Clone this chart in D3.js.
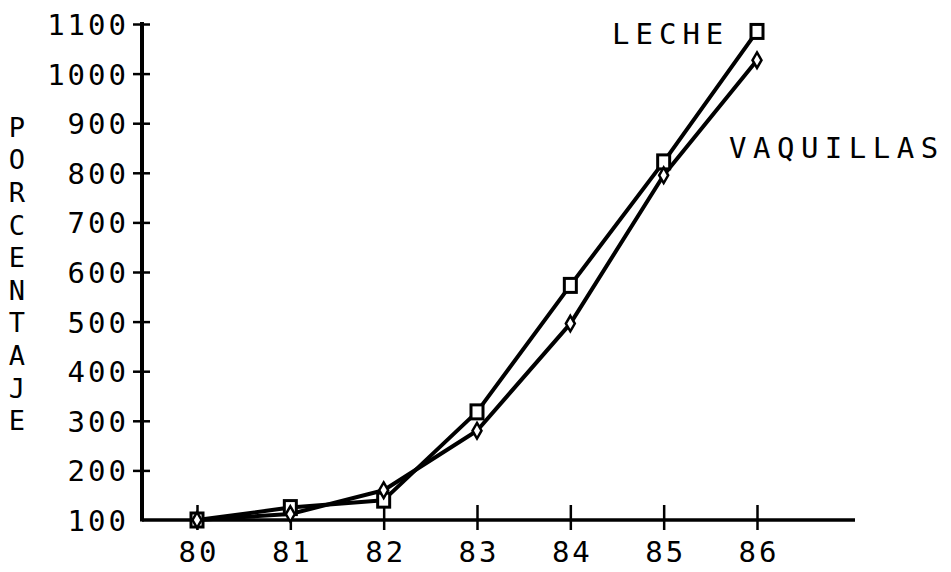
<!DOCTYPE html>
<html><head><meta charset="utf-8">
<script src="https://cdn.jsdelivr.net/npm/d3@7"></script>
<style>html,body{margin:0;padding:0;background:#fff;}svg{display:block;}</style>
</head><body>
<script>
const years = [80, 81, 82, 83, 84, 85, 86];
const leche = [100, 125, 140, 318, 573, 822, 1085];
const vaquillas = [100, 112, 160, 280, 496, 795, 1027];
const yTicks = [100, 200, 300, 400, 500, 600, 700, 800, 900, 1000, 1100];
const yTitle = "PORCENTAJE";
const seriesNames = ["LECHE", "VAQUILLAS"];

const W = 951, H = 572;
const FONT = "'DejaVu Sans Mono', 'Liberation Mono', monospace";
const svg = d3.select("body").append("svg").attr("width", W).attr("height", H);

const x = d3.scaleLinear().domain([80, 86]).range([197, 757]);
const y = d3.scaleLinear().domain([100, 1100]).range([520, 24]);
const axisX0 = 142, axisXEnd = 855;

// Y axis
const yAxis = d3.axisLeft(y).tickValues(yTicks).tickSize(9).tickPadding(14).tickFormat(d3.format("d"));
const gy = svg.append("g").attr("transform", `translate(${axisX0},0)`).call(yAxis);
gy.select(".domain").remove();
gy.selectAll(".tick line").attr("x1", 8).attr("stroke", "#000").attr("stroke-width", 2.5)
  .attr("display", d => d === 100 ? "none" : null);
gy.selectAll(".tick text").attr("font-family", FONT).attr("font-size", 29)
  .attr("letter-spacing", 3).attr("fill", "#000").attr("dy", "0.36em").attr("x", -13);
gy.append("line").attr("x1", 0).attr("x2", 0).attr("y1", y(1100) - 2).attr("y2", y(100) + 1.5)
  .attr("stroke", "#000").attr("stroke-width", 4);

// X axis
const xAxis = d3.axisBottom(x).tickValues(years).tickSize(10).tickPadding(11).tickFormat(d3.format("d"));
const gx = svg.append("g").attr("transform", `translate(0,${y(100)})`).call(xAxis);
gx.select(".domain").remove();
gx.selectAll(".tick line").attr("y1", -15).attr("stroke", "#000").attr("stroke-width", 2.5);
gx.selectAll(".tick text").attr("font-family", FONT).attr("font-size", 29)
  .attr("letter-spacing", 3).attr("fill", "#000").attr("dx", 1.5);
gx.append("line").attr("x1", axisX0).attr("x2", axisXEnd).attr("y1", 0).attr("y2", 0)
  .attr("stroke", "#000").attr("stroke-width", 3.5);

// Y title stacked vertically
svg.append("g").selectAll("text").data(yTitle.split("")).join("text")
  .attr("x", 17).attr("y", (d, i) => 127 + i * 32.6).attr("dy", "0.36em")
  .attr("text-anchor", "middle").attr("font-family", FONT).attr("font-size", 27)
  .attr("fill", "#000").text(d => d);

// Lines
const line = d3.line().x((d, i) => x(years[i])).y(d => y(d));
[leche, vaquillas].forEach(s => {
  svg.append("path").datum(s).attr("d", line).attr("fill", "none")
    .attr("stroke", "#000").attr("stroke-width", 4).attr("stroke-linejoin", "round");
});

// Markers
svg.append("g").selectAll("rect").data(leche).join("rect")
  .attr("x", (d, i) => x(years[i]) - 6).attr("y", d => y(d) - 7)
  .attr("width", 12).attr("height", 14)
  .attr("fill", "#fff").attr("stroke", "#000").attr("stroke-width", 3);
const diamond = d3.symbol().type(d3.symbolDiamond).size(70);
svg.append("g").selectAll("path").data(vaquillas).join("path")
  .attr("transform", (d, i) => `translate(${x(years[i])},${y(d)})`)
  .attr("d", diamond).attr("fill", "#fff").attr("stroke", "#000").attr("stroke-width", 2.5);

// Series labels
svg.append("text").attr("x", 612).attr("y", 44).attr("font-family", FONT).attr("font-size", 29)
  .attr("letter-spacing", 6).attr("fill", "#000").text(seriesNames[0]);
svg.append("text").attr("x", 729).attr("y", 158).attr("font-family", FONT).attr("font-size", 29)
  .attr("letter-spacing", 6.5).attr("fill", "#000").text(seriesNames[1]);
</script>
</body></html>
